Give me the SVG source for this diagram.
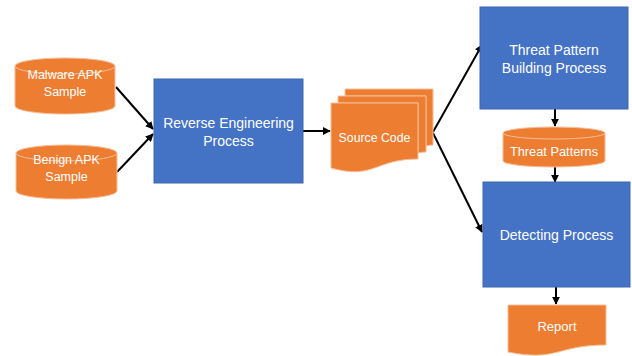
<svg xmlns="http://www.w3.org/2000/svg" width="632" height="356" viewBox="0 0 632 356">
<defs>
<style>
.box{fill:#4472C4;stroke:#3C66B0;stroke-width:1}
.org{fill:#ED7D31;stroke:#F6BE98;stroke-width:1}
.t{font-family:"Liberation Sans",Arial,sans-serif;fill:#ffffff;text-anchor:middle}
.big{font-size:14px}
.sm{font-size:12.5px}
.c{stroke:#000;stroke-width:2;fill:none;marker-end:url(#ah)}
</style>
<marker id="ah" viewBox="0 0 10 10" refX="9" refY="5" markerWidth="4" markerHeight="4" orient="auto" markerUnits="strokeWidth">
<path d="M0,0 L10,5 L0,10 Z" fill="#000"/>
</marker>
</defs>
<rect width="632" height="356" fill="#ffffff"/>
<g id="connectors">
<line class="c" x1="116" y1="87" x2="153" y2="129"/>
<line class="c" x1="117" y1="172" x2="153" y2="134"/>
<line class="c" x1="303" y1="131" x2="330" y2="131"/>
<line class="c" x1="433" y1="132" x2="482" y2="45"/>
<line class="c" x1="433" y1="133" x2="482" y2="232"/>
<line class="c" x1="555" y1="109" x2="555" y2="126"/>
<line class="c" x1="555" y1="167" x2="555" y2="182"/>
<line class="c" x1="556" y1="287" x2="556" y2="304"/>
</g>
<g id="malware">
<path class="org" d="M15,66 A50,8 0 0 1 115,66 V106 A50,8 0 0 1 15,106 Z"/>
<path class="org" d="M15,66 A50,8 0 0 0 115,66" fill="none"/>
<text class="t sm" x="65" y="79">Malware APK</text>
<text class="t sm" x="65" y="96">Sample</text>
</g>
<g id="benign">
<path class="org" d="M16,153 A50.5,8 0 0 1 117,153 V191 A50.5,8 0 0 1 16,191 Z"/>
<path class="org" d="M16,153 A50.5,8 0 0 0 117,153" fill="none"/>
<text class="t sm" x="66.5" y="164">Benign APK</text>
<text class="t sm" x="66.5" y="181">Sample</text>
</g>
<g id="reverse">
<rect class="box" x="154" y="79" width="149" height="104"/>
<text class="t big" x="228.5" y="128">Reverse Engineering</text>
<text class="t big" x="228.5" y="146">Process</text>
</g>
<g id="source">
<path class="org" d="M345,96 V89 H433 V145 Q429,145 426,146 V96 Z"/>
<path class="org" d="M338,103 V96 H426 V152 Q422,152 418,153 V103 Z"/>
<path class="org" d="M331,103 H418 V159 C374.5,159 374.5,180 331,168 Z"/>
<text class="t" font-size="12.3" x="374.5" y="142">Source Code</text>
</g>
<g id="threatbuild">
<rect class="box" x="480" y="7" width="148" height="102"/>
<text class="t big" x="554" y="55">Threat Pattern</text>
<text class="t big" x="554" y="73">Building Process</text>
</g>
<g id="threatpatterns">
<path class="org" d="M503,133 A51,6 0 0 1 605,133 V161 A51,6 0 0 1 503,161 Z"/>
<path class="org" d="M503,133 A51,6 0 0 0 605,133" fill="none"/>
<text class="t" font-size="12.8" x="554" y="156">Threat Patterns</text>
</g>
<g id="detecting">
<rect class="box" x="483" y="182" width="147" height="105"/>
<text class="t big" x="556.5" y="240">Detecting Process</text>
</g>
<g id="report">
<path class="org" d="M508,305 H606 V345 C557,345 557,362 508,352 Z"/>
<text class="t" font-size="13" x="557" y="331">Report</text>
</g>
</svg>
